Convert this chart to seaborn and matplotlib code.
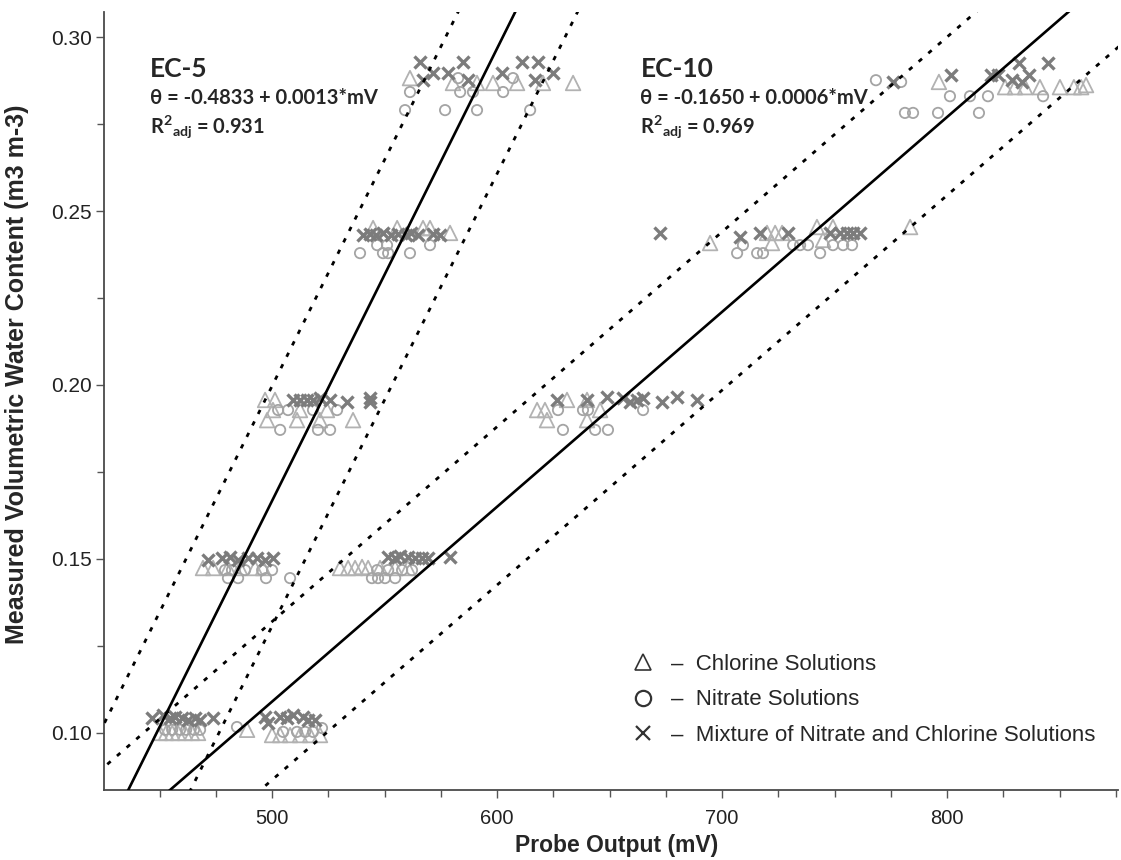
import numpy as np
import pandas as pd
import matplotlib
matplotlib.use("Agg")
import matplotlib.pyplot as plt
from matplotlib.lines import Line2D
from matplotlib.ticker import MultipleLocator, FormatStrFormatter
import seaborn as sns

# ---------------- data ----------------
# EC-5 probe
ec5_cl_mv = [450.2, 452.9, 455.6, 458.2, 461.3, 464.4, 467.1,
             469.3, 473.8, 480.4, 485.8, 492.4, 496.0,
             496.9, 501.3, 497.8, 511.1, 521.3, 536.0, 500.4, 512.4, 524.4,
             544.9, 555.6, 567.1, 570.2, 579.1,
             561.3, 580.4, 591.1, 598.2, 608.9, 620.4, 633.8]
ec5_cl_th = [0.1000, 0.1000, 0.1000, 0.1000, 0.1000, 0.1000, 0.1000,
             0.1474, 0.1474, 0.1474, 0.1474, 0.1474, 0.1474,
             0.1957, 0.1957, 0.1899, 0.1899, 0.1899, 0.1899, 0.1928, 0.1928, 0.1928,
             0.2451, 0.2451, 0.2451, 0.2451, 0.2437,
             0.2882, 0.2868, 0.2868, 0.2868, 0.2868, 0.2868, 0.2868]

ec5_ni_mv = [452.4, 455.6, 459.1, 461.8, 465.3, 468.0,
             479.1, 482.2, 488.0, 495.6, 500.0, 480.4, 484.9, 497.3, 508.0,
             502.7, 507.1, 518.2, 528.9, 503.6, 520.4, 525.8,
             546.7, 551.1, 570.2, 539.1, 549.3, 551.6, 561.3,
             561.3, 583.6, 589.3, 602.7, 607.1, 582.7, 559.1, 576.9, 591.1, 614.7]
ec5_ni_th = [0.1009, 0.1009, 0.1009, 0.1009, 0.1009, 0.1009,
             0.1468, 0.1468, 0.1468, 0.1468, 0.1468, 0.1445, 0.1445, 0.1445, 0.1445,
             0.1928, 0.1928, 0.1928, 0.1928, 0.1871, 0.1871, 0.1871,
             0.2402, 0.2402, 0.2402, 0.2379, 0.2379, 0.2379, 0.2379,
             0.2842, 0.2842, 0.2842, 0.2842, 0.2882, 0.2882, 0.2790, 0.2790, 0.2790, 0.2790]

ec5_mx_mv = [446.7, 451.6, 454.7, 456.9, 460.0, 462.7, 465.8, 468.0, 473.8,
             471.6, 477.8, 481.3, 484.9, 489.3, 493.3, 496.9, 500.4,
             509.3, 512.4, 515.6, 518.2, 521.3, 525.8, 533.3, 543.6, 543.6,
             540.4, 543.6, 546.2, 549.3, 552.9, 556.0, 559.6, 561.8, 564.9, 571.6, 574.7,
             565.8, 584.9, 571.6, 578.2, 587.1, 602.2, 611.1, 618.2, 616.9, 624.9, 567.1]
ec5_mx_th = [0.1043, 0.1052, 0.1043, 0.1046, 0.1043, 0.1037, 0.1043, 0.1037, 0.1043,
             0.1497, 0.1503, 0.1506, 0.1497, 0.1503, 0.1503, 0.1497, 0.1503,
             0.1957, 0.1957, 0.1957, 0.1957, 0.1963, 0.1957, 0.1951, 0.1963, 0.1951,
             0.2431, 0.2434, 0.2431, 0.2437, 0.2431, 0.2434, 0.2431, 0.2437, 0.2431, 0.2434, 0.2431,
             0.2928, 0.2928, 0.2897, 0.2897, 0.2876, 0.2897, 0.2928, 0.2928, 0.2876, 0.2897, 0.2876]

# EC-10 probe
ec10_cl_mv = [488.9, 500.0, 503.6, 508.0, 512.4, 516.9, 521.3,
              530.2, 533.8, 536.9, 540.0, 542.7, 548.0, 554.7, 560.4,
              617.8, 622.2, 631.1, 640.0, 640.0, 645.8, 621.3,
              694.7, 720.0, 723.6, 726.7, 722.2, 742.2, 749.3, 744.9, 783.6,
              796.4, 825.8, 830.2, 834.7, 841.3, 850.2, 856.4, 859.6, 861.8]
ec10_cl_th = [0.1009, 0.0994, 0.0994, 0.0994, 0.0994, 0.0994, 0.0994,
              0.1474, 0.1474, 0.1474, 0.1477, 0.1474, 0.1474, 0.1474, 0.1474,
              0.1928, 0.1899, 0.1957, 0.1957, 0.1899, 0.1928, 0.1928,
              0.2408, 0.2437, 0.2437, 0.2437, 0.2408, 0.2454, 0.2454, 0.2417, 0.2454,
              0.2871, 0.2856, 0.2856, 0.2856, 0.2856, 0.2856, 0.2856, 0.2856, 0.2862]

ec10_ni_mv = [484.4, 504.9, 511.1, 514.7, 518.2, 522.2,
              546.7, 551.6, 557.8, 562.2, 544.4, 547.1, 550.2, 554.7,
              627.1, 638.2, 640.4, 664.9, 629.3, 643.6, 649.3,
              706.7, 709.3, 715.6, 718.2, 731.6, 734.7, 738.2, 743.6, 749.3, 753.8, 757.8,
              768.4, 779.6, 801.3, 810.2, 818.2, 842.7, 781.3, 784.9, 796.0, 814.2]
ec10_ni_th = [0.1017, 0.1003, 0.1003, 0.1003, 0.1003, 0.1014,
              0.1468, 0.1468, 0.1468, 0.1468, 0.1445, 0.1445, 0.1445, 0.1445,
              0.1928, 0.1928, 0.1928, 0.1928, 0.1871, 0.1871, 0.1871,
              0.2379, 0.2402, 0.2379, 0.2379, 0.2402, 0.2402, 0.2402, 0.2379, 0.2402, 0.2402, 0.2402,
              0.2876, 0.2871, 0.2830, 0.2830, 0.2830, 0.2830, 0.2782, 0.2782, 0.2782, 0.2782]

ec10_mx_mv = [496.9, 498.2, 503.6, 506.7, 509.3, 513.8, 516.0, 519.1,
              551.6, 554.7, 556.9, 560.4, 563.6, 566.7, 569.3, 579.1,
              626.7, 640.0, 648.9, 656.0, 659.1, 662.2, 664.9, 673.3, 680.0, 688.9,
              672.4, 708.0, 716.9, 729.3, 748.0, 752.4, 755.6, 758.2, 761.3,
              776.0, 801.8, 819.6, 822.7, 832.0, 844.9, 833.3, 836.4, 828.9]
ec10_mx_th = [0.1046, 0.1029, 0.1046, 0.1043, 0.1052, 0.1046, 0.1037, 0.1037,
              0.1506, 0.1503, 0.1509, 0.1506, 0.1503, 0.1503, 0.1503, 0.1506,
              0.1957, 0.1957, 0.1966, 0.1963, 0.1951, 0.1957, 0.1963, 0.1951, 0.1966, 0.1957,
              0.2437, 0.2425, 0.2437, 0.2437, 0.2437, 0.2437, 0.2437, 0.2437, 0.2437,
              0.2871, 0.2891, 0.2891, 0.2891, 0.2925, 0.2925, 0.2871, 0.2891, 0.2876]

# calibration lines (intercept, slope) and prediction band offsets, as drawn
probes = ["EC-5", "EC-10"]
line_intercept = [-0.4833, -0.1710]
line_slope = [0.0013, 0.00056]
band_upper = [0.033, 0.023]
band_lower = [-0.036, -0.0225]
equations = ["\u03b8 = -0.4833 + 0.0013*mV", "\u03b8 = -0.1650 + 0.0006*mV"]
r2_values = ["0.931", "0.969"]

legend_labels = ["\u2013  Chlorine Solutions", "\u2013  Nitrate Solutions",
                 "\u2013  Mixture of Nitrate and Chlorine Solutions"]

x_label = "Probe Output (mV)"
y_label = "Measured Volumetric Water Content (m3 m-3)"

# ---------------- plotting ----------------
sns.set_style("ticks")
plt.rcParams["font.family"] = ["Liberation Sans", "DejaVu Sans"]
plt.rcParams["mathtext.default"] = "regular"

fig = plt.figure(figsize=(11.21, 8.60), dpi=100)
ax = fig.add_axes([104 / 1121, 70 / 860, 1014 / 1121, 778 / 860])

xmin, xmax = 425.3, 876.0
ymin, ymax = 0.0836, 0.3072

c_tri = "#b2b2b2"
c_cir = "#a4a4a4"
c_x = "#7c7c7c"

def make_df(mv, th, kind):
    return pd.DataFrame({"mv": mv, "theta": th, "kind": kind})

tri = pd.concat([make_df(ec5_cl_mv, ec5_cl_th, "cl"), make_df(ec10_cl_mv, ec10_cl_th, "cl")])
cir = pd.concat([make_df(ec5_ni_mv, ec5_ni_th, "ni"), make_df(ec10_ni_mv, ec10_ni_th, "ni")])
mix = pd.concat([make_df(ec5_mx_mv, ec5_mx_th, "mx"), make_df(ec10_mx_mv, ec10_mx_th, "mx")])

sns.scatterplot(data=tri, x="mv", y="theta", marker="^", s=110, facecolor="none",
                edgecolor=c_tri, linewidth=1.3, ax=ax, zorder=3, legend=False)
sns.scatterplot(data=cir, x="mv", y="theta", marker="o", s=55, facecolor="none",
                edgecolor=c_cir, linewidth=1.3, ax=ax, zorder=3, legend=False)
sns.scatterplot(data=mix, x="mv", y="theta", marker="x", s=75, color=c_x,
                linewidth=2.4, ax=ax, zorder=4, legend=False)

xs = np.linspace(xmin - 20, xmax + 20, 200)
dash = (0, (1.6, 3.0))
for i in range(len(probes)):
    yc = line_intercept[i] + line_slope[i] * xs
    sns.lineplot(x=xs, y=yc, color="black", linewidth=1.9, ax=ax, zorder=5)
    sns.lineplot(x=xs, y=yc + band_upper[i], color="black", linewidth=2.0,
                 linestyle=dash, ax=ax, zorder=5)
    sns.lineplot(x=xs, y=yc + band_lower[i], color="black", linewidth=2.0,
                 linestyle=dash, ax=ax, zorder=5)

ax.set_xlim(xmin, xmax)
ax.set_ylim(ymin, ymax)
ax.xaxis.set_major_locator(MultipleLocator(100))
ax.xaxis.set_minor_locator(MultipleLocator(25))
ax.yaxis.set_major_locator(MultipleLocator(0.05))
ax.yaxis.set_minor_locator(MultipleLocator(0.025))
ax.yaxis.set_major_formatter(FormatStrFormatter("%.2f"))

for s in ["top", "right"]:
    ax.spines[s].set_visible(False)
for s in ["left", "bottom"]:
    ax.spines[s].set_color("#4a4a4a")
    ax.spines[s].set_linewidth(1.3)

ax.tick_params(which="major", length=6, width=1.0, color="#555555", labelsize=15,
               labelcolor="#222222", pad=3)
ax.tick_params(which="minor", length=5, width=1.0, color="#555555")
ax.tick_params(axis="x", which="major", pad=8)
for lab in ax.get_xticklabels():
    lab.set_fontsize(14.5)

ax.set_xlabel(x_label, fontsize=16.5, fontweight="bold")
ax.set_ylabel(y_label, fontsize=18, fontweight="bold")
ax.xaxis.set_label_coords(0.506, -0.056)
ax.yaxis.set_label_coords(-0.074, 0.535)

ann_font = ["Lato", "DejaVu Sans"]
x_pos = [0.045, 0.529]
for i in range(len(probes)):
    ax.text(x_pos[i], 0.927, probes[i], transform=ax.transAxes, fontsize=19,
            fontweight="bold", family=ann_font, va="center", ha="left")
    ax.text(x_pos[i], 0.889, equations[i], transform=ax.transAxes, fontsize=14.5,
            fontweight="bold", family=ann_font, va="center", ha="left")
    ax.text(x_pos[i], 0.853, r"R$^{2}$$_{adj}$ = " + r2_values[i], transform=ax.transAxes,
            fontsize=14.5, fontweight="bold", family=ann_font, va="center", ha="left")

handles = [Line2D([], [], marker="^", linestyle="", markerfacecolor="none",
                  markeredgecolor="#333333", markersize=11, markeredgewidth=1.2),
           Line2D([], [], marker="o", linestyle="", markerfacecolor="none",
                  markeredgecolor="#333333", markersize=11, markeredgewidth=1.6),
           Line2D([], [], marker="x", linestyle="", color="#333333",
                  markersize=10, markeredgewidth=1.6)]
ax.legend(handles, legend_labels, loc="upper left", bbox_to_anchor=(0.521, 0.175),
          frameon=False, fontsize=16, handlelength=1.0, handletextpad=0.75,
          labelspacing=0.65, borderpad=0, borderaxespad=0)

fig.savefig("out.png", dpi=100)
